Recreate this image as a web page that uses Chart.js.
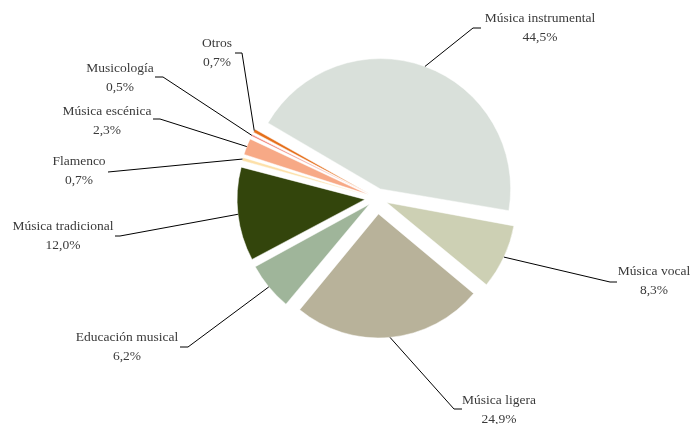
<!DOCTYPE html>
<html lang="es">
<head>
<meta charset="utf-8">
<title>Distribución por tipo de música</title>
<script src="https://cdn.jsdelivr.net/npm/chart.js@4.4.0/dist/chart.umd.min.js"></script>
<style>
    html, body { margin: 0; padding: 0; background: #fff; }
    #wrap { width: 692px; height: 424px; position: relative; }
</style>
</head>
<body>
<div id="wrap"><canvas id="pieChart"></canvas></div>
<script>
// ==================== DATA ====================
const categories = ['Música instrumental', 'Música vocal', 'Música ligera', 'Educación musical',
    'Música tradicional', 'Flamenco', 'Música escénica', 'Musicología', 'Otros'];
const shares = [44.5, 8.3, 24.9, 6.2, 12.0, 0.7, 2.3, 0.5, 0.7];
const sliceColors = ['#d9e0da', '#cdd0b4', '#b8b29a', '#9fb59a', '#33450c',
    '#fde0a8', '#f7a986', '#ef7b6e', '#e56f1b'];

// label layout: elbow point of the leader, end of the short tick, text centre
const labelLayout = [
    { ex: 473, ey: 28,  hx: 481, tx: 540, ty: 18 },
    { ex: 610, ey: 282, hx: 617, tx: 654, ty: 271 },
    { ex: 454, ey: 409, hx: 462, tx: 499, ty: 400 },
    { ex: 188, ey: 347, hx: 180, tx: 127, ty: 337 },
    { ex: 120, ey: 236, hx: 115, tx: 63,  ty: 226 },
    { ex: 108, ey: 172, hx: 108, tx: 79,  ty: 161 },
    { ex: 160, ey: 119, hx: 153, tx: 107, ty: 111 },
    { ex: 163, ey: 77,  hx: 155, tx: 120, ty: 68 },
    { ex: 242, ey: 53,  hx: 235, tx: 217, ty: 43 }
];

const EXPLODE = 16;   // px each slice is pulled out
const total = shares.reduce((s, v) => s + v, 0);

// Chart.js translates by offset/4 * (2 - sin(circ)), so undo that to get an even pull-out
function sliceOffset(ctx) {
    const circ = shares[ctx.dataIndex] / total * Math.PI * 2;
    const fix = 1 - Math.sin(Math.min(Math.PI, circ));
    return 4 * EXPLODE / (1 + fix);
}

// ==================== LABELS ====================
const leaderLabels = {
    id: 'leaderLabels',
    afterDatasetsDraw(chart) {
        const ctx = chart.ctx;
        const arcs = chart.getDatasetMeta(0).data;
        ctx.save();
        ctx.strokeStyle = '#000';
        ctx.lineWidth = 1;
        ctx.fillStyle = '#3a3a3a';
        ctx.font = '13.5px "Liberation Serif", serif';
        ctx.textAlign = 'center';
        ctx.textBaseline = 'middle';
        arcs.forEach((arc, i) => {
            const mid = (arc.startAngle + arc.endAngle) / 2;
            const r = arc.outerRadius + EXPLODE;
            const sx = arc.x + Math.cos(mid) * r;
            const sy = arc.y + Math.sin(mid) * r;
            const L = labelLayout[i];
            ctx.beginPath();
            ctx.moveTo(sx, sy);
            ctx.lineTo(L.ex, L.ey);
            ctx.lineTo(L.hx, L.ey);
            ctx.stroke();
            ctx.fillText(categories[i], L.tx, L.ty);
            ctx.fillText(shares[i].toFixed(1).replace('.', ',') + '%', L.tx, L.ty + 19);
        });
        ctx.restore();
    }
};

// ==================== CHART ====================
new Chart(document.getElementById('pieChart').getContext('2d'), {
    type: 'pie',
    data: {
        labels: categories,
        datasets: [{
            data: shares,
            backgroundColor: sliceColors,
            borderColor: '#ffffff',
            borderWidth: 0.5,
            offset: sliceOffset,
            hoverOffset: 0
        }]
    },
    options: {
        responsive: true,
        maintainAspectRatio: false,
        animation: false,
        rotation: -60,
        radius: 124,
        layout: { padding: { left: 62, right: 0, top: 0, bottom: 28 } },
        plugins: {
            legend: { display: false },
            tooltip: { enabled: false }
        }
    },
    plugins: [leaderLabels]
});
</script>
</body>
</html>
